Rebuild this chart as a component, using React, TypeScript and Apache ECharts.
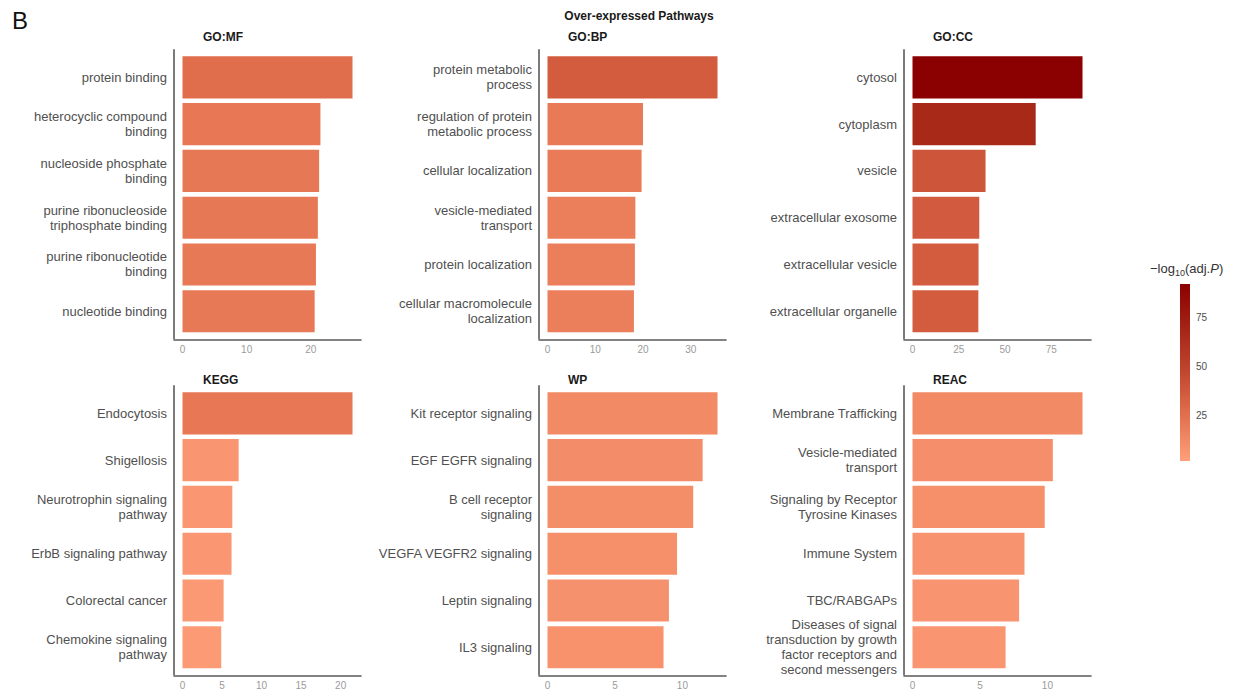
import React, { useEffect, useRef } from "react";
import * as echarts from "echarts";

// ---------- data ----------
const panelNames = ["GO:MF", "GO:BP", "GO:CC", "KEGG", "WP", "REAC"];

const mfTerms = [
  "protein binding",
  "heterocyclic compound\nbinding",
  "nucleoside phosphate\nbinding",
  "purine ribonucleoside\ntriphosphate binding",
  "purine ribonucleotide\nbinding",
  "nucleotide binding",
];
const mfValues = [26.5, 21.5, 21.3, 21.1, 20.8, 20.6];
const mfTicks = [0, 10, 20];

const bpTerms = [
  "protein metabolic\nprocess",
  "regulation of protein\nmetabolic process",
  "cellular localization",
  "vesicle-mediated\ntransport",
  "protein localization",
  "cellular macromolecule\nlocalization",
];
const bpValues = [35.6, 20.0, 19.7, 18.4, 18.3, 18.1];
const bpTicks = [0, 10, 20, 30];

const ccTerms = [
  "cytosol",
  "cytoplasm",
  "vesicle",
  "extracellular exosome",
  "extracellular vesicle",
  "extracellular organelle",
];
const ccValues = [91.9, 66.6, 39.5, 36.1, 35.7, 35.6];
const ccTicks = [0, 25, 50, 75];

const keggTerms = [
  "Endocytosis",
  "Shigellosis",
  "Neurotrophin signaling\npathway",
  "ErbB signaling pathway",
  "Colorectal cancer",
  "Chemokine signaling\npathway",
];
const keggValues = [21.5, 7.1, 6.3, 6.2, 5.2, 4.9];
const keggTicks = [0, 5, 10, 15, 20];

const wpTerms = [
  "Kit receptor signaling",
  "EGF EGFR signaling",
  "B cell receptor\nsignaling",
  "VEGFA VEGFR2 signaling",
  "Leptin signaling",
  "IL3 signaling",
];
const wpValues = [12.6, 11.5, 10.8, 9.6, 9.0, 8.6];
const wpTicks = [0, 5, 10];

const reacTerms = [
  "Membrane Trafficking",
  "Vesicle-mediated\ntransport",
  "Signaling by Receptor\nTyrosine Kinases",
  "Immune System",
  "TBC/RABGAPs",
  "Diseases of signal\ntransduction by growth\nfactor receptors and\nsecond messengers",
];
const reacValues = [12.6, 10.4, 9.8, 8.3, 7.9, 6.9];
const reacTicks = [0, 5, 10];

const colorMin = 2;
const colorMax = 92;
const colorTicks = [25, 50, 75];
const rampColors = ["#FFA07A", "#E3714F", "#C2472F", "#A52416", "#8B0000"];

// ---------- layout ----------
const FONT = "'Liberation Sans', Arial, Helvetica, sans-serif";
const COLS = [174, 539, 904];
const ROWS = [49.3, 385.3];
const TITLE_Y = [37, 380];
const AXIS_W = 187;
const AXIS_H = 290;
const AXIS_COLOR = "#5a5a5a";
const CB = { left: 1180, top: 284, width: 10, height: 177 };

export default function App() {
  const ref = useRef<HTMLDivElement>(null);

  useEffect(() => {
    if (!ref.current) return;
    const chart = echarts.init(ref.current, undefined, { renderer: "svg" });

    const panels = [
      { terms: mfTerms, values: mfValues, ticks: mfTicks },
      { terms: bpTerms, values: bpValues, ticks: bpTicks },
      { terms: ccTerms, values: ccValues, ticks: ccTicks },
      { terms: keggTerms, values: keggValues, ticks: keggTicks },
      { terms: wpTerms, values: wpValues, ticks: wpTicks },
      { terms: reacTerms, values: reacValues, ticks: reacTicks },
    ];

    const grids: any[] = [];
    const xAxes: any[] = [];
    const yAxes: any[] = [];
    const series: any[] = [];
    const graphics: any[] = [];

    panels.forEach((p, i) => {
      const col = COLS[i % 3];
      const r = Math.floor(i / 3);
      const row = ROWS[r];
      const n = p.terms.length;
      const band = AXIS_H / (n + 0.2);
      const pad = band * 0.1;
      const vmax = Math.max(...p.values);
      grids.push({
        left: col,
        top: row + pad,
        width: AXIS_W,
        height: AXIS_H - 2 * pad,
        containLabel: false,
      });
      xAxes.push({
        type: "value",
        gridIndex: i,
        min: -0.05 * vmax,
        max: 1.05 * vmax,
        offset: pad,
        axisLine: { show: true, lineStyle: { color: AXIS_COLOR, width: 1.6 } },
        axisTick: { show: false },
        splitLine: { show: false },
        axisLabel: {
          customValues: p.ticks,
          color: "#9a9a9a",
          fontSize: 10,
          fontFamily: FONT,
          margin: 5,
        },
      });
      yAxes.push({
        type: "category",
        gridIndex: i,
        inverse: true,
        data: p.terms,
        axisLine: { show: false },
        axisTick: { show: false },
        axisLabel: {
          color: "#505050",
          fontSize: 13,
          lineHeight: 15,
          fontFamily: FONT,
          margin: 7,
          align: "right",
        },
      });
      series.push({
        type: "bar",
        xAxisIndex: i,
        yAxisIndex: i,
        data: p.values,
        barCategoryGap: "10%",
        silent: true,
      });
      graphics.push({
        type: "line",
        shape: { x1: col, y1: row, x2: col, y2: row + AXIS_H },
        style: { stroke: AXIS_COLOR, lineWidth: 1.6 },
        silent: true,
      });
      graphics.push({
        type: "text",
        x: col + 29,
        y: TITLE_Y[r],
        style: {
          text: panelNames[i],
          font: `bold 12px ${FONT}`,
          fill: "#1a1a1a",
          textAlign: "left",
          textVerticalAlign: "middle",
        },
      });
    });

    // colour bar axis (tick labels and white tick marks)
    grids.push({ left: CB.left, top: CB.top, width: CB.width, height: CB.height });
    xAxes.push({ type: "value", gridIndex: 6, show: false, min: 0, max: 1 });
    yAxes.push({
      type: "value",
      gridIndex: 6,
      min: colorMin,
      max: colorMax,
      position: "right",
      z: 10,
      axisLine: { show: false },
      splitLine: { show: false },
      axisTick: {
        show: true,
        inside: true,
        length: 10,
        customValues: colorTicks,
        lineStyle: { color: "rgba(255,255,255,0.4)", width: 1 },
      },
      axisLabel: {
        customValues: colorTicks,
        color: "#4d4d4d",
        fontSize: 10,
        fontFamily: FONT,
        margin: 6,
      },
    });

    // colour bar itself
    graphics.push({
      type: "rect",
      z: 5,
      shape: { x: CB.left, y: CB.top, width: CB.width, height: CB.height },
      style: {
        fill: new echarts.graphic.LinearGradient(
          0,
          1,
          0,
          0,
          rampColors.map((c, k) => ({ offset: k / (rampColors.length - 1), color: c }))
        ),
      },
      silent: true,
    });

    graphics.push({
      type: "text",
      x: 12,
      y: 20,
      style: {
        text: "B",
        font: `24px ${FONT}`,
        fill: "#111",
        textVerticalAlign: "middle",
      },
    });
    graphics.push({
      type: "text",
      x: 639,
      y: 16,
      style: {
        text: "Over-expressed Pathways",
        font: `bold 12px ${FONT}`,
        fill: "#1a1a1a",
        textAlign: "center",
        textVerticalAlign: "middle",
      },
    });
    graphics.push({
      type: "text",
      x: 1150,
      y: 268,
      style: {
        text: "{a|−log}{s|10}{a|(adj.}{i|P}{a|)}",
        textVerticalAlign: "middle",
        rich: {
          a: { fontSize: 13, fontFamily: FONT, fill: "#333", lineHeight: 18, verticalAlign: "middle" },
          s: { fontSize: 9, fontFamily: FONT, fill: "#333", lineHeight: 18, verticalAlign: "bottom" },
          i: { fontSize: 13, fontFamily: FONT, fill: "#333", fontStyle: "italic", lineHeight: 18, verticalAlign: "middle" },
        },
      },
    });

    chart.setOption({
      animation: false,
      backgroundColor: "#ffffff",
      grid: grids,
      xAxis: xAxes,
      yAxis: yAxes,
      series,
      graphic: graphics,
      visualMap: {
        type: "continuous",
        show: false,
        min: colorMin,
        max: colorMax,
        seriesIndex: [0, 1, 2, 3, 4, 5],
        dimension: 0,
        inRange: { color: rampColors },
      },
    });

    return () => chart.dispose();
  }, []);

  return (
    <div
      ref={ref}
      style={{ position: "absolute", left: 0, top: 0, width: 1243, height: 698 }}
    />
  );
}
